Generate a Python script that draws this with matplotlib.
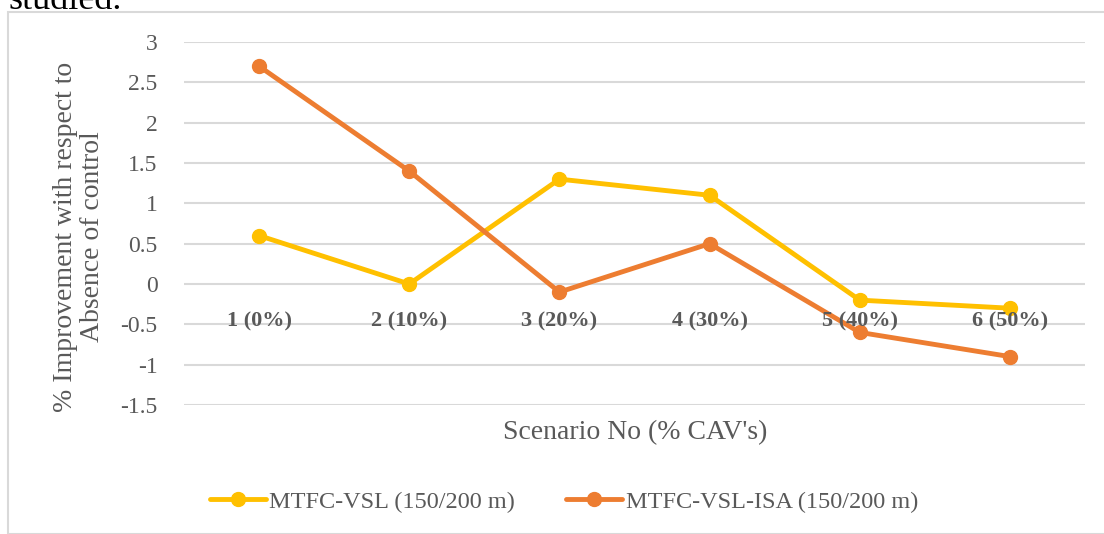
import matplotlib
matplotlib.use("Agg")
import matplotlib.pyplot as plt
from matplotlib.patches import Rectangle

categories = ["1 (0%)", "2 (10%)", "3 (20%)", "4 (30%)", "5 (40%)", "6 (50%)"]
vsl = [0.6, 0.0, 1.3, 1.1, -0.2, -0.3]
vsl_isa = [2.7, 1.4, -0.1, 0.5, -0.6, -0.9]
yticks = [3, 2.5, 2, 1.5, 1, 0.5, 0, -0.5, -1, -1.5]

series_labels = ["MTFC-VSL (150/200 m)", "MTFC-VSL-ISA (150/200 m)"]
colors = ["#FFC000", "#ED7D31"]
grey = "#595959"
grid = "#D9D9D9"

plt.rcParams["font.family"] = ["Liberation Serif", "DejaVu Serif"]

W, H = 1104, 534
fig = plt.figure(figsize=(W / 100, H / 100), dpi=100)

# chart frame
fig.patches.append(Rectangle((8 / W, 0), 1.2, (H - 12) / H, transform=fig.transFigure,
                             fill=False, edgecolor=grid, linewidth=1.5))
# fragment of the surrounding caption text
fig.text(8 / W, 1 - 9 / H, "studied.", fontsize=26, color="black", va="baseline")

ax = fig.add_axes([184 / W, 1 - 405 / H, (1085 - 184) / W, (405 - 42) / H])
ax.set_xlim(-0.5, 5.5)
ax.set_ylim(-1.5, 3)
ax.set_yticks(yticks)
ax.set_yticklabels([f"{v:g}" for v in yticks])
ax.yaxis.grid(True, color=grid, linewidth=1.5)
ax.set_axisbelow(True)
for s in ax.spines.values():
    s.set_visible(False)
ax.tick_params(axis="y", length=0, pad=19, labelsize=17, labelcolor=grey)
ax.set_xticks([])

x = list(range(len(categories)))
for vals, c, lab in zip([vsl, vsl_isa], colors, series_labels):
    ax.plot(x, vals, color=c, linewidth=3.5, marker="o", markersize=10, label=lab,
            solid_capstyle="round")

for xi, cat in zip(x, categories):
    ax.text(xi, -0.46, cat, ha="center", va="center", fontsize=16,
            fontweight="bold", color=grey)

fig.text(635 / W, 1 - 433 / H, "Scenario No (% CAV's)", ha="center", va="center",
         fontsize=20, color=grey)
fig.text(79 / W, 1 - 237 / H, "% Improvement with respect to\nAbsence of control",
         ha="center", va="center", rotation=90, fontsize=20, color=grey,
         linespacing=1.15)

leg = fig.legend(loc="center", bbox_to_anchor=(564 / W, 1 - 502 / H), ncol=2,
                 frameon=False, fontsize=17.5, handlelength=2.3, columnspacing=2.1,
                 handletextpad=0.15)
for t in leg.get_texts():
    t.set_color(grey)

fig.savefig("out.png", dpi=100)
